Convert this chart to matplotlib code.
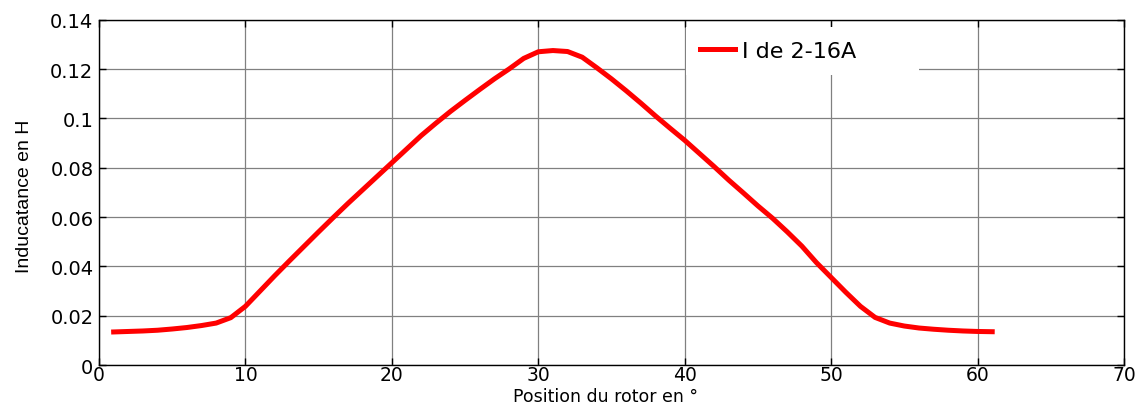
import numpy as np
import matplotlib
matplotlib.use("Agg")
import matplotlib.pyplot as plt

plt.rcParams['font.family'] = ['DejaVu Sans']

# rotor position (deg) and inductance (H) for I from 2 to 16 A
position = list(range(1, 62))
inductance = [
    0.0134, 0.0136, 0.0138, 0.0141, 0.0146, 0.0152, 0.0160, 0.0170, 0.0192, 0.0238,
    0.0300, 0.0362, 0.0422, 0.0481, 0.0540, 0.0598, 0.0655, 0.0710, 0.0765, 0.0820,
    0.0875, 0.0930, 0.0980, 0.1028, 0.1073, 0.1117, 0.1160, 0.1200, 0.1243, 0.1270,
    0.1275, 0.1271, 0.1248, 0.1205, 0.1160, 0.1112, 0.1062, 0.1010, 0.0960, 0.0911,
    0.0858, 0.0805, 0.0750, 0.0698, 0.0645, 0.0595, 0.0540, 0.0482, 0.0415, 0.0355,
    0.0295, 0.0238, 0.0193, 0.0170, 0.0158, 0.0150, 0.0145, 0.0141, 0.0138, 0.0136,
    0.0135,
]
xticks = [0, 10, 20, 30, 40, 50, 60, 70]
yticks = [0, 0.02, 0.04, 0.06, 0.08, 0.1, 0.12, 0.14]
ytick_labels = ['0', '0.02', '0.04', '0.06', '0.08', '0.1', '0.12', '0.14']

fig = plt.figure(figsize=(11.46, 4.06), dpi=100)
ax = fig.add_axes([0.0864, 0.0985, 0.8944, 0.8505])

ax.plot(position, inductance, color='#ff0000', lw=3.6, label='I de 2-16A', zorder=3)

ax.set_xlim(0, 70)
ax.set_ylim(0, 0.14)
ax.set_xticks(xticks)
ax.set_yticks(yticks)
ax.set_yticklabels(ytick_labels)
ax.grid(True, color='#808080', lw=0.9, ls='-')
ax.set_axisbelow(True)
ax.tick_params(direction='in', length=5, width=1, top=True, right=True,
               labelsize=14, colors='black')
ax.tick_params(axis='x', pad=0, labelsize=13.5)
ax.tick_params(axis='y', pad=4)
for s in ax.spines.values():
    s.set_linewidth(1)
    s.set_color('black')

ax.set_xlabel('Position du rotor en °', fontsize=12.5)
ax.xaxis.set_label_coords(0.4937, -0.0637)
ax.set_ylabel('Inducatance en H', fontsize=14,
              family=['Liberation Sans Narrow', 'Liberation Sans', 'DejaVu Sans'])
ax.yaxis.set_label_coords(-0.064, 0.49)

# white legend box without border, stretched to its fixed width
leg = ax.legend(loc='upper left', bbox_to_anchor=(0.5727, 0.837, 0.2273, 0.142),
                mode='expand', borderaxespad=0, fontsize=16,
                handlelength=1.6, handletextpad=0.3, borderpad=0.62,
                fancybox=False, framealpha=1)
leg.get_frame().set_edgecolor('white')
leg.get_frame().set_linewidth(0)

fig.savefig('out.png', dpi=100)
